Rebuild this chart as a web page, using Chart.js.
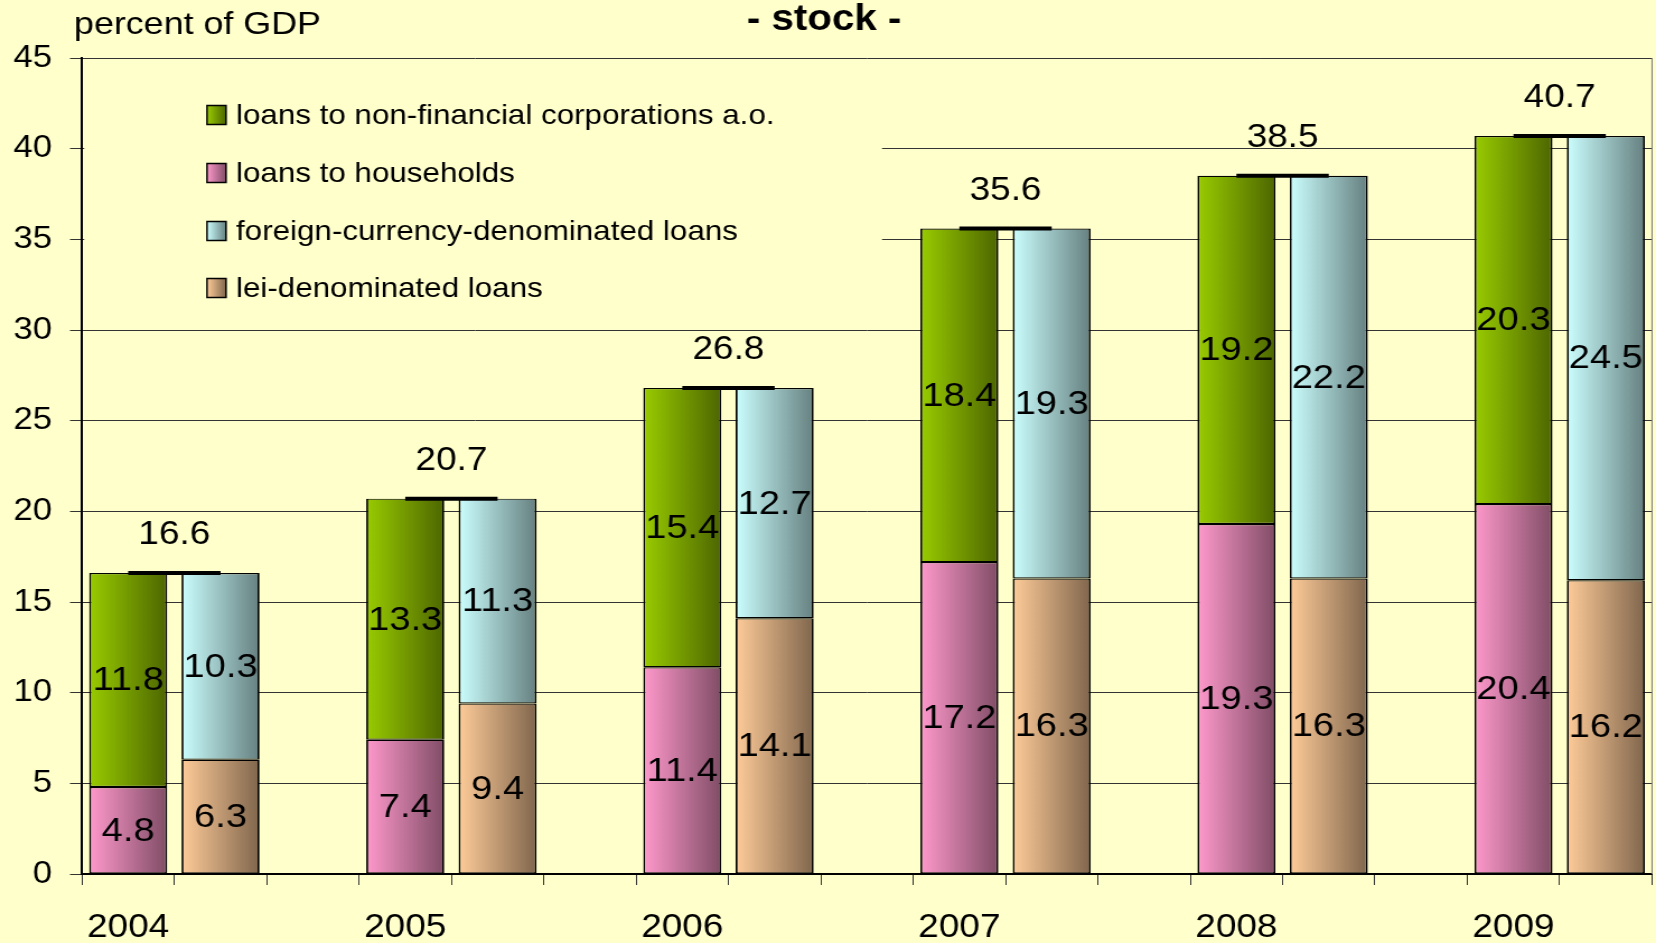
<!DOCTYPE html>
<html>
<head>
<meta charset="utf-8">
<script src="https://cdn.jsdelivr.net/npm/chart.js@4.4.0/dist/chart.umd.min.js"></script>
<style>
  html, body { margin: 0; padding: 0; background: #ffffcc; overflow: hidden; }
  #chart { display: block; }
</style>
</head>
<body>
<!-- the original picture is slightly stretched sideways; the canvas is drawn narrower and widened by its style -->
<canvas id="chart" width="1479" height="943" style="width:1656px;height:943px;"></canvas>
<script>
// Data
const years = ['2004', '2005', '2006', '2007', '2008', '2009'];
const corporations = [11.8, 13.3, 15.4, 18.4, 19.2, 20.3];
const households = [4.8, 7.4, 11.4, 17.2, 19.3, 20.4];
const foreignCurrency = [10.3, 11.3, 12.7, 19.3, 22.2, 24.5];
const leiLoans = [6.3, 9.4, 14.1, 16.3, 16.3, 16.2];
const totals = [16.6, 20.7, 26.8, 35.6, 38.5, 40.7];
const yTicks = [0, 5, 10, 15, 20, 25, 30, 35, 40, 45];

const seriesNames = [
    'loans to non-financial corporations a.o.',
    'loans to households',
    'foreign-currency-denominated loans',
    'lei-denominated loans'
];

const FONT = '"Liberation Sans", Arial, sans-serif';
const BAR_PCT = 0.845;
const SX = 1656 / 1479; // horizontal stretch of the page

// Gradient colours (left -> right)
const palette = {
    corp: ['#99cc00', '#4d6600'],
    house: ['#ff99cc', '#804d66'],
    foreign: ['#ccffff', '#668080'],
    lei: ['#ffcc99', '#80664d']
};

// Each year uses three slots: sector bar, currency bar, gap (no gap after the last year)
const slots = [];
years.forEach((y, i) => {
    slots.push(y, '');
    if (i < years.length - 1) slots.push('');
});

function spread(values, offset) {
    const out = new Array(slots.length).fill(null);
    values.forEach((v, i) => { out[3 * i + offset] = v; });
    return out;
}

function totalLine(values) {
    const out = new Array(slots.length).fill(null);
    values.forEach((v, i) => { out[3 * i] = v; out[3 * i + 1] = v; });
    return out;
}

function barGradient(colors) {
    return ctx => {
        const chart = ctx.chart;
        const x = chart.scales.x;
        if (!x || ctx.dataIndex === undefined) return colors[0];
        const cx = x.getPixelForValue(ctx.dataIndex);
        const hw = (x.width / slots.length) * BAR_PCT / 2;
        if (!isFinite(cx) || !isFinite(hw) || hw <= 0) return colors[0];
        const g = chart.ctx.createLinearGradient(cx - hw, 0, cx + hw, 0);
        g.addColorStop(0, colors[0]);
        g.addColorStop(1, colors[1]);
        return g;
    };
}

// Background, titles, legend box, right border
const decorations = {
    id: 'decorations',
    beforeDraw(chart) {
        const c = chart.ctx;
        c.save();
        c.fillStyle = '#ffffcc';
        c.fillRect(0, 0, chart.width, chart.height);
        c.restore();
    },
    beforeDatasetsDraw(chart) {
        const c = chart.ctx;
        const area = chart.chartArea;
        c.save();
        // legend box hides the gridlines behind it
        c.fillStyle = '#ffffcc';
        c.fillRect(area.left + 2, 66, 882 / SX - area.left - 2, 254);

        // right border
        c.strokeStyle = '#777';
        c.lineWidth = 1;
        c.beginPath();
        c.moveTo(area.right, area.top);
        c.lineTo(area.right, area.bottom);
        c.stroke();

        // legend
        const colors = [palette.corp, palette.house, palette.foreign, palette.lei];
        const rows = [115, 173, 231, 288];
        c.font = `28px ${FONT}`;
        c.textBaseline = 'middle';
        c.textAlign = 'left';
        seriesNames.forEach((name, i) => {
            const x0 = 207 / SX, y0 = rows[i] - 9.5, w = 19 / SX, h = 19;
            const g = c.createLinearGradient(x0, 0, x0 + w, 0);
            g.addColorStop(0, colors[i][0]);
            g.addColorStop(1, colors[i][1]);
            c.fillStyle = g;
            c.fillRect(x0, y0, w, h);
            c.strokeStyle = '#000';
            c.lineWidth = 1.5;
            c.strokeRect(x0, y0, w, h);
            c.fillStyle = '#000';
            c.fillText(name, 236 / SX, rows[i] + 1);
        });

        // titles
        c.font = `32px ${FONT}`;
        c.fillText('percent of GDP', 74 / SX, 25);
        c.font = `bold 36px ${FONT}`;
        c.textAlign = 'center';
        c.fillText('- stock -', 824 / SX, 20);
        c.restore();
    }
};

// Value labels inside segments and totals above the connecting line
const valueLabels = {
    id: 'valueLabels',
    afterDatasetsDraw(chart) {
        const c = chart.ctx;
        c.save();
        c.fillStyle = '#000';
        c.textAlign = 'center';
        c.textBaseline = 'middle';
        chart.data.datasets.forEach((ds, di) => {
            const meta = chart.getDatasetMeta(di);
            if (ds.type === 'line') {
                c.font = `33px ${FONT}`;
                meta.data.forEach((pt, i) => {
                    if (ds.data[i] === null || i % 3 !== 0) return;
                    const next = meta.data[i + 1];
                    c.fillText(ds.data[i].toFixed(1), (pt.x + next.x) / 2, pt.y - 38);
                });
            } else {
                c.font = `34px ${FONT}`;
                meta.data.forEach((bar, i) => {
                    if (ds.data[i] === null) return;
                    c.fillText(ds.data[i].toFixed(1), bar.x, (bar.y + bar.base) / 2 + 1);
                });
            }
        });
        c.restore();
    }
};

const barCommon = {
    borderColor: '#000',
    borderWidth: { left: 1.8, right: 1.8, top: 1.2, bottom: 1.2 },
    borderSkipped: false,
    barPercentage: BAR_PCT,
    categoryPercentage: 1
};

const chart = new Chart(document.getElementById('chart'), {
    type: 'bar',
    data: {
        labels: slots,
        datasets: [
            Object.assign({ label: seriesNames[3], data: spread(leiLoans, 1), backgroundColor: barGradient(palette.lei) }, barCommon),
            Object.assign({ label: seriesNames[2], data: spread(foreignCurrency, 1), backgroundColor: barGradient(palette.foreign) }, barCommon),
            Object.assign({ label: seriesNames[1], data: spread(households, 0), backgroundColor: barGradient(palette.house) }, barCommon),
            Object.assign({ label: seriesNames[0], data: spread(corporations, 0), backgroundColor: barGradient(palette.corp) }, barCommon),
            {
                type: 'line',
                label: 'total',
                stack: 'total',
                data: totalLine(totals),
                borderColor: '#000',
                borderWidth: 4,
                pointRadius: 0,
                spanGaps: false,
                order: -1
            }
        ]
    },
    options: {
        responsive: false,
        animation: false,
        layout: { padding: { top: 58, right: 4 / SX, left: 0, bottom: 0 } },
        plugins: {
            legend: { display: false },
            tooltip: { enabled: false },
            title: { display: false }
        },
        scales: {
            x: {
                stacked: true,
                offset: true,
                grid: {
                    offset: true,
                    drawOnChartArea: false,
                    drawTicks: true,
                    tickLength: 11,
                    color: '#333',
                    lineWidth: 1
                },
                border: { display: true, color: '#000', width: 2 },
                ticks: {
                    autoSkip: false,
                    maxRotation: 0,
                    padding: 23,
                    color: '#000',
                    font: { family: FONT, size: 33 }
                },
                afterFit(s) { s.height = 69; }
            },
            y: {
                stacked: true,
                min: 0,
                max: 45,
                afterBuildTicks(s) { s.ticks = yTicks.map(v => ({ value: v })); },
                grid: {
                    color: '#333',
                    lineWidth: 1,
                    drawTicks: true,
                    tickLength: 12 / SX
                },
                border: { display: true, color: '#000', width: 2 },
                ticks: {
                    padding: 18 / SX,
                    color: '#000',
                    font: { family: FONT, size: 31 }
                },
                afterFit(s) { s.width = 82 / SX; }
            }
        }
    },
    plugins: [decorations, valueLabels]
});
chart.update();
</script>
</body>
</html>
